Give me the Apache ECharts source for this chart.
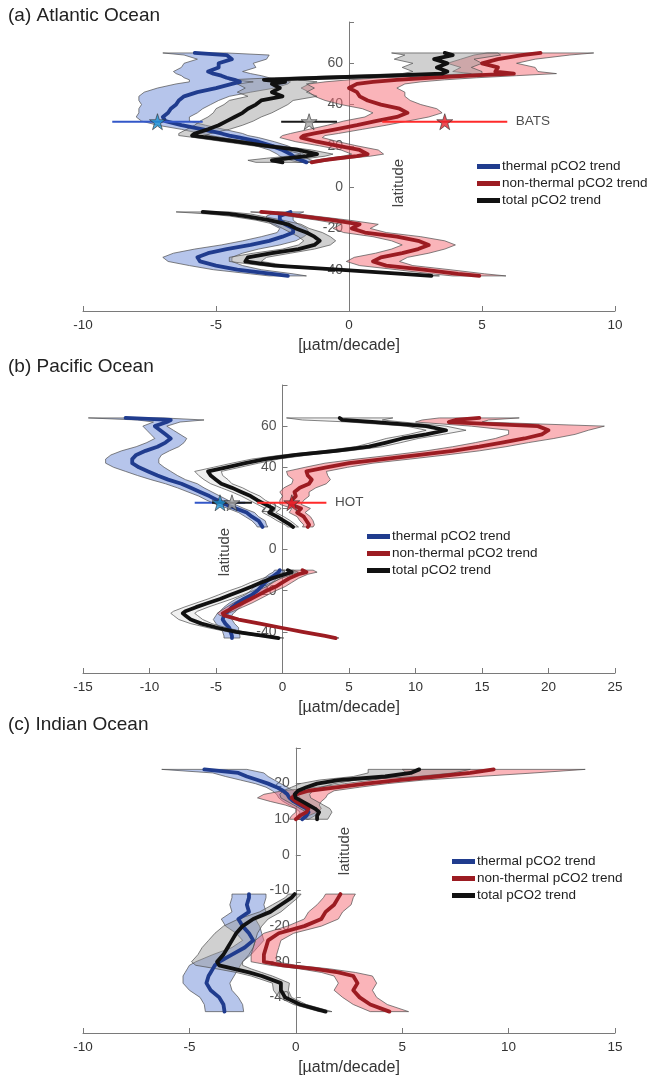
<!DOCTYPE html>
<html>
<head>
<meta charset="utf-8">
<title>pCO2 trend profiles</title>
<script src="https://cdn.jsdelivr.net/npm/echarts@6/dist/echarts.min.js"></script>
<style>
  html, body { margin: 0; padding: 0; background: #fff; }
  #chart { width: 652px; height: 1082px; }
</style>
</head>
<body>
<div id="chart"></div>
<script>
// Latitudinal profiles of decadal pCO2 trends [µatm/decade]:
// centre value and half-width of the uncertainty envelope at each latitude.

// ---------- (a) Atlantic, northern branch ----------
const atlLatN = [65,64,62,60,58,56,55,54,53,52,51,50,48,46,44,42,40,38,36,34,32,30,28,26,25,24,22,20,18,16,15,14,13,12];
const atlThermalN    = [-5.8,-4.6,-4.4,-4.9,-4.9,-5.3,-5.1,-4.8,-4.6,-4.3,-4.1,-4.4,-5.0,-5.7,-6.2,-6.4,-6.5,-6.7,-6.8,-7.0,-6.9,-6.3,-5.5,-4.8,-4.5,-4.1,-3.4,-2.9,-2.5,-2.2,-2.1,-2.0,-1.8,-1.6];
const atlThermalErrN = [1.2,1.6,1.3,1.3,1.4,1.3,1.4,1.5,1.6,1.7,1.9,2.1,2.2,2.0,1.7,1.5,1.3,1.2,1.1,1.0,0.9,0.9,0.8,0.8,0.7,0.7,0.6,0.6,0.5,0.5,0.5,0.4,0.4,0.3];
const atlNonThermalN    = [7.2,6.5,5.6,5.0,5.6,5.5,6.2,4.5,3.0,1.8,0.9,0.3,0.0,0.3,0.4,0.7,1.2,1.9,2.2,1.8,1.0,0.3,-0.5,-1.3,-1.7,-1.8,-1.2,-0.4,0.4,0.7,0.3,-0.4,-1.0,-1.4];
const atlNonThermalErrN = [2.0,1.8,1.4,1.3,1.4,1.6,1.6,1.8,1.8,1.8,1.8,1.8,1.8,1.8,1.7,1.6,1.5,1.4,1.3,1.2,1.2,1.1,1.0,0.9,0.8,0.8,0.8,0.7,0.7,0.6,0.5,0.4,0.3,0.3];
const atlTotalN    = [3.6,3.9,3.2,3.7,3.3,3.7,3.5,1.5,-1.0,-3.2,-2.4,-2.9,-2.6,-2.9,-2.5,-3.3,-3.5,-3.8,-4.0,-4.3,-4.6,-4.9,-5.3,-5.8,-5.9,-5.3,-4.2,-3.1,-1.9,-1.2,-1.6,-2.3,-2.9,-2.5];
const atlTotalErrN = [2.0,1.8,1.5,1.3,1.3,1.3,1.5,1.8,1.8,1.3,1.2,1.3,1.3,1.3,1.3,1.2,1.2,1.2,1.1,1.0,1.0,0.9,0.8,0.6,0.5,0.5,0.5,0.5,0.5,0.6,0.7,0.8,0.9,1.0];

// ---------- (a) Atlantic, southern branch ----------
const atlLatS = [-12,-13,-14,-16,-18,-20,-22,-24,-26,-28,-30,-32,-34,-36,-38,-40,-42,-43];
const atlThermalS    = [-2.2,-2.4,-2.6,-2.6,-2.4,-2.1,-2.1,-2.5,-3.0,-3.7,-4.6,-5.3,-5.7,-5.6,-5.0,-4.2,-2.9,-2.3];
const atlThermalErrS = [0.5,0.5,0.5,0.5,0.5,0.5,0.6,0.8,1.0,1.1,1.2,1.3,1.3,1.2,1.0,0.9,0.8,0.7];
const atlNonThermalS    = [-3.3,-2.4,-1.8,-0.6,0.4,0.1,0.6,1.8,2.6,3.0,2.6,2.0,1.2,0.9,1.4,2.8,4.1,4.9];
const atlNonThermalErrS = [0.4,0.5,0.5,0.6,0.7,0.7,0.8,0.9,1.0,1.0,1.0,1.0,1.0,1.0,1.0,1.0,1.0,1.0];
const atlTotalS    = [-5.5,-4.5,-3.9,-3.0,-2.3,-2.0,-1.6,-1.3,-1.1,-1.3,-1.9,-2.9,-3.8,-3.9,-2.8,-0.4,2.0,3.1];
const atlTotalErrS = [1.0,0.8,0.6,0.5,0.5,0.5,0.6,0.6,0.6,0.6,0.6,0.7,0.7,0.6,0.5,0.4,0.3,0.3];

// ---------- (b) Pacific, northern branch ----------
const pacLatN = [64,63,62,60,58,56,54,52,50,48,46,44,42,40,38,36,34,32,30,28,26,24,22,20,18,16,14,12,11];
const pacThermalN    = [-11.8,-8.4,-8.7,-9.6,-9.2,-8.8,-8.4,-8.8,-9.4,-10.3,-11.0,-11.3,-11.3,-10.8,-10.1,-9.4,-8.6,-7.6,-6.9,-6.2,-5.5,-4.9,-4.3,-3.5,-2.7,-2.3,-1.8,-1.6,-1.5];
const pacThermalErrN = [2.8,2.5,1.0,0.9,1.0,1.1,1.2,1.4,1.6,1.8,1.9,2.0,2.0,1.9,1.7,1.5,1.3,1.2,1.0,0.9,0.8,0.8,0.7,0.6,0.6,0.5,0.5,0.4,0.4];
const pacNonThermalN    = [14.8,13.0,12.5,19.2,20.0,19.5,18.2,16.5,14.8,12.8,10.3,7.6,5.0,3.3,1.8,1.9,2.2,2.0,1.3,0.9,1.0,0.7,0.6,1.4,1.1,1.6,1.8,2.0,1.9];
const pacNonThermalErrN = [3.0,2.5,2.5,5.0,3.0,2.5,2.2,2.0,2.0,2.0,2.0,2.0,1.8,1.6,1.5,1.5,1.4,1.3,1.2,1.1,1.0,0.9,0.8,0.7,0.6,0.5,0.5,0.4,0.4];
const pacTotalN    = [4.3,4.5,7.0,10.8,12.3,10.8,9.0,7.8,6.5,4.0,1.0,-1.3,-2.8,-4.2,-5.6,-5.4,-5.0,-4.6,-3.8,-3.1,-2.4,-1.9,-1.3,-0.7,-1.0,-0.4,0.1,0.6,0.8];
const pacTotalErrN = [4.0,3.0,2.0,1.5,1.5,1.3,1.2,1.1,1.0,1.0,1.0,1.0,1.0,1.0,1.0,0.9,0.9,0.8,0.8,0.7,0.7,0.6,0.6,0.6,0.5,0.5,0.5,0.4,0.4];

// ---------- (b) Pacific, southern branch ----------
const pacLatS = [-10,-11,-12,-14,-16,-18,-20,-22,-24,-26,-28,-30,-31,-32,-34,-36,-38,-40,-42,-43];
const pacThermalS    = [-0.2,-0.3,-0.5,-0.9,-1.3,-1.6,-1.9,-2.3,-2.9,-3.4,-3.8,-4.1,-4.3,-4.4,-4.5,-4.3,-4.0,-3.9,-3.8,-3.8];
const pacThermalErrS = [0.4,0.4,0.5,0.5,0.5,0.5,0.5,0.5,0.6,0.6,0.6,0.6,0.6,0.6,0.7,0.7,0.7,0.6,0.6,0.6];
const pacNonThermalS    = [1.5,1.8,1.2,0.5,0.0,-0.5,-1.2,-1.8,-2.4,-3.0,-3.6,-4.2,-4.5,-4.4,-3.3,-1.7,-0.1,1.5,3.2,4.0];
const pacNonThermalErrS = [0.8,0.8,0.7,0.7,0.7,0.7,0.7,0.7,0.7,0.7,0.6,0.5,0.4,0.3,0.25,0.25,0.25,0.25,0.25,0.25];
const pacTotalS    = [0.4,0.7,0.2,-0.8,-1.6,-2.3,-3.1,-3.9,-4.7,-5.6,-6.5,-7.3,-7.5,-7.3,-6.9,-6.1,-4.9,-3.5,-1.4,-0.3];
const pacTotalErrS = [0.4,0.5,0.6,0.7,0.8,0.8,0.9,0.9,0.9,0.9,0.9,0.9,0.9,0.9,0.9,0.8,0.7,0.6,0.5,0.4];

// ---------- (c) Indian, northern branch ----------
const indLatN = [24,23,22,21,20,19,18,17,16,15,14,13,12,11,10];
const indThermalN    = [-4.3,-2.7,-2.3,-1.8,-1.3,-0.9,-0.6,-0.4,-0.3,-0.1,0.2,0.5,0.6,0.5,0.3];
const indThermalErrN = [2.0,1.2,1.0,0.8,0.6,0.5,0.5,0.5,0.5,0.5,0.5,0.5,0.4,0.4,0.3];
const indNonThermalN    = [9.3,8.2,6.6,4.8,3.3,2.0,0.6,0.0,-0.2,0.0,0.3,0.6,0.5,0.2,0.0];
const indNonThermalErrN = [4.3,3.0,2.0,1.2,1.0,1.0,1.2,1.5,1.6,1.2,0.8,0.6,0.5,0.4,0.3];
const indTotalN    = [5.8,5.4,4.2,2.0,1.0,0.5,0.1,-0.05,0.0,0.3,0.6,0.9,1.1,1.0,1.0];
const indTotalErrN = [2.4,2.0,1.5,0.9,0.8,0.7,0.7,0.7,0.7,0.7,0.7,0.7,0.6,0.6,0.5];

// ---------- (c) Indian, southern branch ----------
const indLatS = [-11,-12,-14,-16,-18,-20,-22,-24,-26,-28,-30,-31,-32,-33,-34,-36,-38,-40,-42,-44];
const indThermalS    = [-2.2,-2.2,-2.3,-2.2,-2.7,-2.5,-2.2,-2.0,-2.4,-3.0,-3.6,-3.8,-3.9,-4.0,-4.1,-4.2,-4.0,-3.6,-3.4,-3.35];
const indThermalErrS = [0.8,0.8,0.8,0.8,0.8,0.8,0.6,0.5,0.6,0.9,1.1,1.2,1.2,1.2,1.2,1.1,1.0,0.9,0.9,0.9];
const indNonThermalS    = [2.1,2.0,1.8,1.4,1.2,0.4,-0.8,-1.3,-1.4,-1.5,-1.5,-0.6,0.9,2.0,2.7,2.9,2.7,3.0,3.5,4.4];
const indNonThermalErrS = [0.7,0.7,0.8,0.8,0.8,0.8,0.7,0.6,0.6,0.6,0.6,0.6,0.7,0.8,0.9,0.9,0.9,0.8,0.8,0.9];
const indTotalS    = [-0.05,-0.2,-0.7,-1.2,-2.0,-2.5,-2.8,-3.0,-3.2,-3.4,-3.7,-3.6,-2.9,-2.2,-1.6,-0.7,-0.7,-0.5,0.2,1.4];
const indTotalErrS = [0.3,0.3,0.4,0.5,0.7,0.9,1.0,1.1,1.2,1.2,1.2,1.1,0.8,0.6,0.5,0.4,0.35,0.3,0.3,0.3];

// ---------- time-series stations: thermal, non-thermal, total ----------
const batsLat = 31.7;
const batsTrend = [-7.2, 3.6, -1.5];
const batsErr = [1.7, 2.35, 1.05];
const hotLat = 22.75;
const hotTrend = [-4.7, 0.7, -3.8];
const hotErr = [1.9, 2.6, 1.5];

// ---------- labels and axes ----------
const trendNames = ['thermal pCO2 trend', 'non-thermal pCO2 trend', 'total pCO2 trend'];
const panelTitles = ['(a) Atlantic Ocean', '(b) Pacific Ocean', '(c) Indian Ocean'];
const xLimits = [[-10, 10], [-15, 25], [-10, 15]];
const latLimits = [[-60, 80], [-60, 80], [-50, 30]];
const latSteps = [20, 20, 10];
const latLabelRange = [[-40, 60], [-40, 60], [-40, 20]];
const unitLabel = '[µatm/decade]';

// ---------- styling ----------
const FONT = '"Liberation Sans", Arial, Helvetica, sans-serif';
const lineColors = ['#203c8e', '#9c1c22', '#111111'];
const bandFills = ['rgba(110,140,215,0.5)', 'rgba(245,105,115,0.5)', 'rgba(150,150,150,0.45)'];
const pacTotalFill = 'rgba(205,205,205,0.3)';
const barColors = ['#3357c8', '#ff2a2a', '#1a1a1a'];   // thermal, non-thermal, total
const starFills = ['#1e93d4', '#e5212b', '#a6a6a6'];
const STAR = 'path://M50,2 L61,36 L97,36 L68,57 L79,92 L50,71 L21,92 L32,57 L3,36 L39,36 Z';

const grids = [
  { left: 83, width: 532, top: 22, height: 289 },
  { left: 83, width: 532, top: 385, height: 288 },
  { left: 83, width: 532, top: 748, height: 285 }
];

const panels = [
  { segs: [
      { lat: atlLatN, v: [atlThermalN, atlNonThermalN, atlTotalN], e: [atlThermalErrN, atlNonThermalErrN, atlTotalErrN] },
      { lat: atlLatS, v: [atlThermalS, atlNonThermalS, atlTotalS], e: [atlThermalErrS, atlNonThermalErrS, atlTotalErrS] }
    ], fills: bandFills },
  { segs: [
      { lat: pacLatN, v: [pacThermalN, pacNonThermalN, pacTotalN], e: [pacThermalErrN, pacNonThermalErrN, pacTotalErrN] },
      { lat: pacLatS, v: [pacThermalS, pacNonThermalS, pacTotalS], e: [pacThermalErrS, pacNonThermalErrS, pacTotalErrS] }
    ], fills: [bandFills[0], bandFills[1], pacTotalFill] },
  { segs: [
      { lat: indLatN, v: [indThermalN, indNonThermalN, indTotalN], e: [indThermalErrN, indNonThermalErrN, indTotalErrN] },
      { lat: indLatS, v: [indThermalS, indNonThermalS, indTotalS], e: [indThermalErrS, indNonThermalErrS, indTotalErrS] }
    ], fills: bandFills }
];

// envelope drawn as a single polygon: lower edge down the profile, upper edge back up
function bandSeries(gi, lat, mid, err, fill) {
  const rows = lat.map((y, i) => [mid[i] - err[i], mid[i] + err[i], y]);
  return {
    type: 'custom', xAxisIndex: gi, yAxisIndex: gi, z: 2, silent: true,
    data: rows,
    encode: { x: [0, 1], y: 2 },
    renderItem(params, api) {
      if (params.dataIndex !== 0) return null;
      const lo = rows.map(r => api.coord([r[0], r[2]]));
      const hi = rows.map(r => api.coord([r[1], r[2]])).reverse();
      return {
        type: 'polygon',
        shape: { points: lo.concat(hi) },
        style: { fill: fill, stroke: '#4d4d4d', lineWidth: 0.7 }
      };
    }
  };
}

function profileSeries(gi, k, lat, mid) {
  return {
    type: 'line', name: trendNames[k], xAxisIndex: gi, yAxisIndex: gi, z: 3,
    data: lat.map((y, i) => [mid[i], y]),
    showSymbol: false, symbol: 'none', silent: true,
    lineStyle: { color: lineColors[k], width: 3.8, join: 'round', cap: 'round' },
    itemStyle: { color: lineColors[k] }
  };
}

// horizontal error bars and star markers of a station; drawn thermal, total, then non-thermal
function stationSeries(gi, label, lat, trend, err) {
  const out = [];
  const order = [0, 2, 1];
  order.forEach(k => {
    out.push({
      type: 'line', xAxisIndex: gi, yAxisIndex: gi, z: 4, silent: true,
      data: [[trend[k] - err[k], lat], [trend[k] + err[k], lat]],
      showSymbol: false, symbol: 'none',
      lineStyle: { color: barColors[k], width: 2 }
    });
  });
  out.push({
    type: 'scatter', xAxisIndex: gi, yAxisIndex: gi, z: 5, silent: true,
    symbol: STAR, symbolSize: 16,
    data: order.map(k => ({
      value: [trend[k], lat],
      itemStyle: { color: starFills[k], borderColor: '#333', borderWidth: 0.8 }
    }))
  });
  out.push({
    type: 'scatter', xAxisIndex: gi, yAxisIndex: gi, z: 5, silent: true,
    symbolSize: 1, itemStyle: { color: 'rgba(0,0,0,0)' },
    data: [[trend[1] + err[1], lat]],
    label: { show: true, position: 'right', distance: 8, formatter: label,
             color: '#222', fontSize: 13.5, fontFamily: FONT }
  });
  return out;
}

const series = [];
panels.forEach((p, gi) => {
  p.segs.forEach(s => { for (let k = 0; k < 3; k++) series.push(bandSeries(gi, s.lat, s.v[k], s.e[k], p.fills[k])); });
  for (let k = 0; k < 3; k++) p.segs.forEach(s => series.push(profileSeries(gi, k, s.lat, s.v[k])));
});
series.push(...stationSeries(0, 'BATS', batsLat, batsTrend, batsErr));
series.push(...stationSeries(1, 'HOT', hotLat, hotTrend, hotErr));

const axisGray = '#7a7a7a';
const xAxes = xLimits.map((lim, gi) => ({
  type: 'value', gridIndex: gi, min: lim[0], max: lim[1], interval: 5,
  axisLine: { onZero: false, lineStyle: { color: axisGray, width: 1 } },
  axisTick: { inside: true, length: 5, lineStyle: { color: axisGray } },
  axisLabel: { color: '#333', fontSize: 13.5, margin: 7, fontFamily: FONT },
  splitLine: { show: false },
  name: unitLabel, nameLocation: 'middle', nameGap: 27,
  nameTextStyle: { color: '#333', fontSize: 16, fontFamily: FONT }
}));
// latitude axis placed where the trend is zero
const yAxes = latLimits.map((lim, gi) => ({
  type: 'value', gridIndex: gi, min: lim[0], max: lim[1], interval: latSteps[gi],
  position: 'left',
  offset: -grids[gi].width * (0 - xLimits[gi][0]) / (xLimits[gi][1] - xLimits[gi][0]),
  axisLine: { onZero: false, lineStyle: { color: axisGray, width: 1 } },
  axisTick: { inside: true, length: 5, lineStyle: { color: axisGray } },
  axisLabel: {
    color: '#555', fontSize: 14, margin: 6, fontFamily: FONT,
    formatter: v => (v >= latLabelRange[gi][0] && v <= latLabelRange[gi][1]) ? String(v) : ''
  },
  splitLine: { show: false }
}));

const legendSpots = [{ left: 477, top: 159 }, { left: 367, top: 529 }, { left: 452, top: 854 }];
const legends = legendSpots.map(pos => ({
  left: pos.left, top: pos.top, orient: 'vertical', padding: 0,
  itemGap: 2, itemWidth: 23, itemHeight: 5, icon: 'rect',
  selectedMode: false,
  data: trendNames,
  textStyle: { color: '#222', fontSize: 13.5, fontFamily: FONT, lineHeight: 15, padding: [0, 0, 0, -3] }
}));

const titleTops = [6, 357, 715];
const titles = panelTitles.map((t, i) => ({
  text: t, left: 8, top: titleTops[i], padding: 0,
  textStyle: { color: '#222', fontSize: 19, fontWeight: 'normal', fontFamily: FONT }
}));

const latNamePos = [[399, 183], [225, 552], [345, 851]];
const graphics = latNamePos.map(p => ({
  type: 'text', x: p[0], y: p[1], rotation: Math.PI / 2, silent: true,
  style: { text: 'latitude', fill: '#444', font: '15px ' + FONT, textAlign: 'center', textVerticalAlign: 'middle' }
}));

const chart = echarts.init(document.getElementById('chart'), null, { renderer: 'canvas' });
chart.setOption({
  animation: false,
  backgroundColor: '#ffffff',
  textStyle: { fontFamily: FONT },
  title: titles,
  legend: legends,
  grid: grids,
  xAxis: xAxes,
  yAxis: yAxes,
  graphic: graphics,
  series: series
});
</script>
</body>
</html>
